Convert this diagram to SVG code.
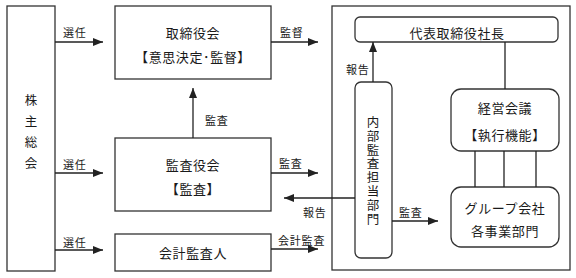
<svg xmlns="http://www.w3.org/2000/svg" width="576" height="278" viewBox="0 0 576 278">
<style>
.box{fill:#fff;stroke:#333;stroke-width:1.3}
.ln{fill:none;stroke:#222;stroke-width:1.3}
.arr{fill:none;stroke:#222;stroke-width:1.3;marker-end:url(#ah)}
.t{font-family:"Noto Sans CJK JP","Noto Sans CJK SC",sans-serif;font-size:13px;fill:#1a1a1a;text-anchor:middle;letter-spacing:0.6px}
.v{font-family:"Noto Sans CJK JP","Noto Sans CJK SC",sans-serif;font-size:12.5px;fill:#1a1a1a;writing-mode:vertical-rl;text-anchor:start}
.s{font-family:"Noto Sans CJK JP","Noto Sans CJK SC",sans-serif;font-size:11px;fill:#1a1a1a;text-anchor:start;letter-spacing:0.8px}
</style>
<defs>
<marker id="ah" markerUnits="userSpaceOnUse" markerWidth="10" markerHeight="8" refX="10" refY="4" orient="auto">
<path d="M0,0 L10,4 L0,8 z" fill="#222"/>
</marker>
</defs>
<rect class="box" x="332" y="6" width="238" height="264"/>
<g id="shareholders">
<rect class="box" x="7" y="6" width="48" height="265"/>
<text class="v" x="31" y="94" style="letter-spacing:8.5px">株主総会</text>
</g>
<g id="board">
<rect class="box" x="115" y="6" width="156" height="73"/>
<text class="t" x="193" y="38">取締役会</text>
<text class="t" x="193" y="62">【意思決定･監督】</text>
</g>
<g id="auditors">
<rect class="box" x="115" y="138" width="156" height="73"/>
<text class="t" x="193" y="170">監査役会</text>
<text class="t" x="193" y="194">【監査】</text>
</g>
<g id="accountant">
<rect class="box" x="115" y="234" width="156" height="37"/>
<text class="t" x="193" y="258">会計監査人</text>
</g>
<g id="president">
<rect class="box" x="355" y="17" width="203" height="25" rx="5"/>
<text class="t" x="457" y="38">代表取締役社長</text>
</g>
<g id="internal-audit">
<rect class="box" x="355" y="82" width="37" height="176" rx="6"/>
<text class="v" x="373" y="116" style="letter-spacing:1.3px">内部監査担当部門</text>
</g>
<g id="management">
<rect class="box" x="451" y="89" width="108" height="62" rx="10"/>
<text class="t" x="505" y="113">経営会議</text>
<text class="t" x="505" y="140">【執行機能】</text>
</g>
<g id="group">
<rect class="box" x="451" y="187" width="108" height="60" rx="10"/>
<text class="t" x="505" y="213">グループ会社</text>
<text class="t" x="505" y="236">各事業部門</text>
</g>
<g id="connectors">
<line class="arr" x1="55" y1="42" x2="103" y2="42"/>
<line class="arr" x1="55" y1="173" x2="103" y2="173"/>
<line class="arr" x1="55" y1="250" x2="103" y2="250"/>
<line class="arr" x1="271" y1="42" x2="318" y2="42"/>
<line class="arr" x1="193" y1="138" x2="193" y2="88"/>
<line class="arr" x1="271" y1="173" x2="318" y2="173"/>
<line class="arr" x1="355" y1="198" x2="284" y2="198"/>
<line class="arr" x1="271" y1="249" x2="318" y2="249"/>
<line class="arr" x1="373" y1="82" x2="373" y2="42"/>
<line class="arr" x1="392" y1="221" x2="438" y2="221"/>
<line class="ln" x1="505" y1="42" x2="505" y2="89"/>
<line class="ln" x1="475" y1="151" x2="475" y2="187"/>
<line class="ln" x1="504" y1="151" x2="504" y2="187"/>
<line class="ln" x1="536" y1="151" x2="536" y2="187"/>
<text class="s" x="63" y="37">選任</text>
<text class="s" x="63" y="169">選任</text>
<text class="s" x="63" y="247">選任</text>
<text class="s" x="280" y="37">監督</text>
<text class="s" x="205" y="125">監査</text>
<text class="s" x="279" y="168">監査</text>
<text class="s" x="303" y="217">報告</text>
<text class="s" x="278" y="245">会計監査</text>
<text class="s" x="346" y="74">報告</text>
<text class="s" x="399" y="217">監査</text>
</g>
</svg>
